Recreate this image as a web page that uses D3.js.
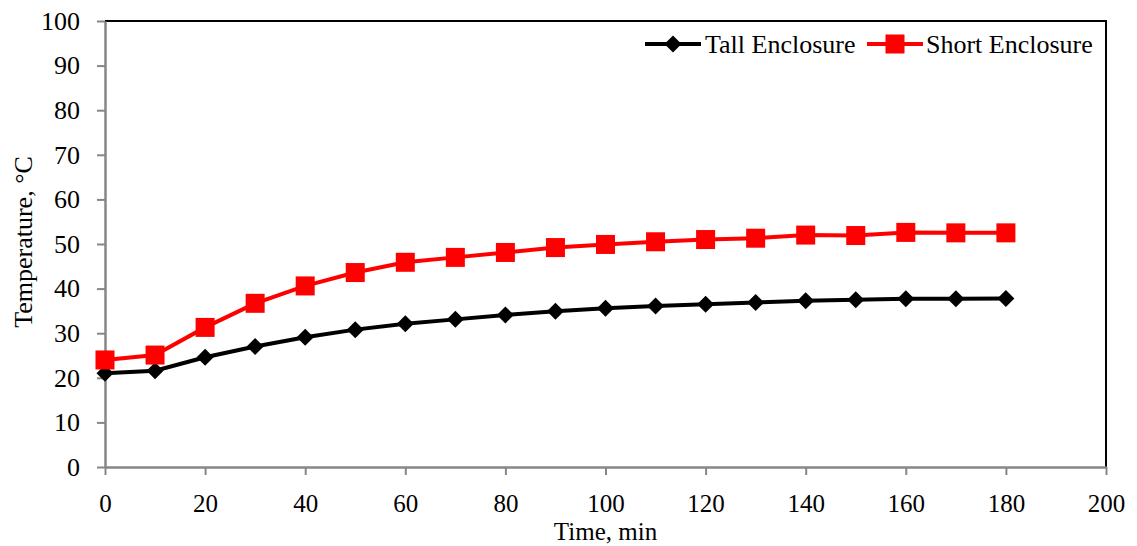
<!DOCTYPE html>
<html>
<head>
<meta charset="utf-8">
<script src="https://cdn.jsdelivr.net/npm/d3@7"></script>
<style>
  html, body { margin: 0; padding: 0; background: #fff; }
  svg { display: block; font-family: "Liberation Serif", "Times New Roman", serif; }
</style>
</head>
<body>
<svg id="chart" width="1137" height="546"></svg>
<script>
// Time steps (minutes) and measured temperatures (°C)
const times = [0, 10, 20, 30, 40, 50, 60, 70, 80, 90, 100, 110, 120, 130, 140, 150, 160, 170, 180];
const tallEnclosure = [21.0, 21.6, 24.6, 27.0, 29.1, 30.8, 32.1, 33.1, 34.1, 34.9, 35.6, 36.1, 36.5, 36.9, 37.3, 37.5, 37.7, 37.7, 37.8];
const shortEnclosure = [24.0, 25.1, 31.3, 36.7, 40.6, 43.6, 45.9, 47.0, 48.1, 49.2, 49.9, 50.5, 51.0, 51.3, 52.0, 51.9, 52.6, 52.5, 52.5];
const xTicks = [0, 20, 40, 60, 80, 100, 120, 140, 160, 180, 200];
const yTicks = [0, 10, 20, 30, 40, 50, 60, 70, 80, 90, 100];
const seriesNames = ["Tall Enclosure", "Short Enclosure"];

const FONT = '"Liberation Serif", "Times New Roman", serif';
const FS = "26px";
const FS_X = "25px";

const svg = d3.select("#chart");
const margin = { left: 105, top: 21, right: 31, bottom: 79 };
const W = 1137, H = 546;

const x = d3.scaleLinear().domain([0, 200]).range([margin.left, W - margin.right]);
const y = d3.scaleLinear().domain([0, 100]).range([H - margin.bottom, margin.top]);

// Plot frame: top and right edges in black
svg.append("path")
  .attr("d", `M${x(0)},${y(100)}H${x(200)}V${y(0)}`)
  .attr("fill", "none").attr("stroke", "#000").attr("stroke-width", 2);

// Axes
const axisColor = "#868686";
const xAxis = svg.append("g")
  .attr("transform", `translate(0,${y(0)})`)
  .call(d3.axisBottom(x).tickValues(xTicks).tickSize(8).tickSizeOuter(0).tickPadding(19));
const yAxis = svg.append("g")
  .attr("transform", `translate(${x(0)},0)`)
  .call(d3.axisLeft(y).tickValues(yTicks).tickSize(8).tickSizeOuter(0).tickPadding(17));

xAxis.attr("font-family", FONT).attr("font-size", FS_X);
yAxis.attr("font-family", FONT).attr("font-size", FS);
[xAxis, yAxis].forEach(g => {
  g.select(".domain").attr("stroke", axisColor).attr("stroke-width", 2.5);
  g.selectAll(".tick line").attr("stroke", axisColor).attr("stroke-width", 2);
  g.selectAll(".tick text").attr("fill", "#000");
});

// Axis titles
svg.append("text")
  .attr("x", (x(0) + x(200)) / 2).attr("y", 540)
  .attr("text-anchor", "middle").style("font-size", FS_X)
  .text("Time, min");
svg.append("text")
  .attr("transform", `translate(32,242) rotate(-90)`)
  .attr("text-anchor", "middle").style("font-size", FS)
  .text("Temperature, °C");

// Series lines
const line = d3.line().x(d => x(d[0])).y(d => y(d[1]));
const tallData = times.map((t, i) => [t, tallEnclosure[i]]);
const shortData = times.map((t, i) => [t, shortEnclosure[i]]);

svg.append("path").datum(tallData)
  .attr("d", line).attr("fill", "none").attr("stroke", "#000").attr("stroke-width", 4);
svg.append("path").datum(shortData)
  .attr("d", line).attr("fill", "none").attr("stroke", "#ff0000").attr("stroke-width", 4);

// Markers
const diamond = s => `M0,${-s}L${s},0L0,${s}L${-s},0Z`;
svg.append("g").selectAll("path").data(tallData).join("path")
  .attr("transform", d => `translate(${x(d[0])},${y(d[1])})`)
  .attr("d", diamond(8.5)).attr("fill", "#000");
svg.append("g").selectAll("rect").data(shortData).join("rect")
  .attr("x", d => x(d[0]) - 9.5).attr("y", d => y(d[1]) - 9.5)
  .attr("width", 19).attr("height", 19).attr("fill", "#ff0000");

// Legend
const legend = svg.append("g").style("font-size", FS);
const lg1 = legend.append("g").attr("transform", "translate(645,44)");
lg1.append("line").attr("x1", 0).attr("x2", 56).attr("stroke", "#000").attr("stroke-width", 4);
lg1.append("path").attr("transform", "translate(28,0)").attr("d", diamond(8.5)).attr("fill", "#000");
lg1.append("text").attr("x", 60).attr("y", 9).text(seriesNames[0]);

const lg2 = legend.append("g").attr("transform", "translate(867,44)");
lg2.append("line").attr("x1", 0).attr("x2", 56).attr("stroke", "#ff0000").attr("stroke-width", 4);
lg2.append("rect").attr("x", 28 - 9.5).attr("y", -9.5).attr("width", 19).attr("height", 19).attr("fill", "#ff0000");
lg2.append("text").attr("x", 59).attr("y", 9).text(seriesNames[1]);
</script>
</body>
</html>
